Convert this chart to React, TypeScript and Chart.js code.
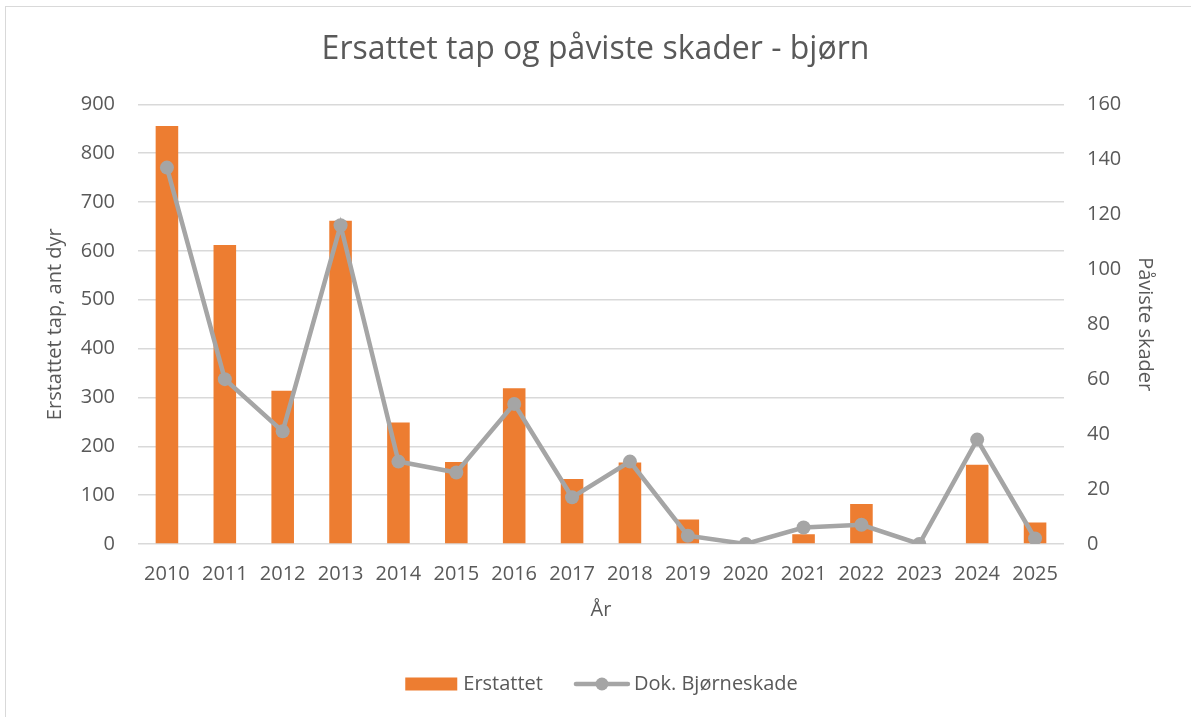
import React, { useEffect, useRef } from "react";
import { Chart, registerables } from "chart.js";

Chart.register(...registerables);

const years = ["2010","2011","2012","2013","2014","2015","2016","2017","2018","2019","2020","2021","2022","2023","2024","2025"];
const erstattet = [856, 612, 314, 662, 249, 168, 319, 133, 167, 50, 0, 20, 82, 0, 162, 44];
const dokSkade = [137, 60, 41, 116, 30, 26, 51, 17, 30, 3, 0, 6, 7, 0, 38, 2];
const leftTicks = [0, 100, 200, 300, 400, 500, 600, 700, 800, 900];
const rightTicks = [0, 20, 40, 60, 80, 100, 120, 140, 160];

const FONT = "'Open Sans', 'Noto Sans', sans-serif";
const TEXT = "#595959";
const ORANGE = "#ed7d31";
const GRAY = "#a5a5a5";

const legendPlugin = {
  id: "excelLegend",
  afterDraw(chart: any) {
    const ctx = chart.ctx;
    const ds = chart.data.datasets;
    ctx.save();
    ctx.font = `20px ${FONT}`;
    ctx.textBaseline = "middle";
    ctx.fillStyle = TEXT;
    const y = 684;
    const w1 = ctx.measureText(ds[0].label).width;
    const w2 = ctx.measureText(ds[1].label).width;
    const total = 52 + 6 + w1 + 31 + 56 + 4 + w2;
    let x = chart.width / 2 + 6 - total / 2;
    ctx.fillStyle = ds[0].backgroundColor;
    ctx.fillRect(x, y - 6.5, 52, 13);
    x += 58;
    ctx.fillStyle = TEXT;
    ctx.textAlign = "left";
    ctx.fillText(ds[0].label, x, y);
    x += w1 + 31;
    ctx.strokeStyle = ds[1].borderColor;
    ctx.lineWidth = 4.5;
    ctx.lineCap = "round";
    ctx.beginPath();
    ctx.moveTo(x + 2, y);
    ctx.lineTo(x + 54, y);
    ctx.stroke();
    ctx.fillStyle = ds[1].borderColor;
    ctx.beginPath();
    ctx.arc(x + 28, y, 6.5, 0, Math.PI * 2);
    ctx.fill();
    x += 60;
    ctx.fillStyle = TEXT;
    ctx.fillText(ds[1].label, x, y);
    ctx.restore();
  },
};

export default function App() {
  const ref = useRef<HTMLCanvasElement | null>(null);
  useEffect(() => {
    if (!ref.current) return;
    const chart = new Chart(ref.current, {
      type: "bar",
      data: {
        labels: years,
        datasets: [
          {
            type: "bar",
            label: "Erstattet",
            data: erstattet,
            backgroundColor: ORANGE,
            yAxisID: "y",
            barPercentage: 0.39,
            categoryPercentage: 1,
            order: 1,
          },
          {
            type: "line",
            label: "Dok. Bjørneskade",
            data: dokSkade,
            borderColor: GRAY,
            backgroundColor: GRAY,
            borderWidth: 4.5,
            pointRadius: 7,
            pointBackgroundColor: GRAY,
            pointBorderColor: GRAY,
            pointBorderWidth: 0,
            tension: 0,
            yAxisID: "y1",
            order: 0,
          } as any,
        ],
      },
      options: {
        responsive: false,
        animation: false,
        layout: { padding: { top: 0, bottom: 93, left: 0, right: 0 } },
        plugins: {
          legend: { display: false },
          tooltip: { enabled: false },
          title: {
            display: true,
            text: "Ersattet tap og påviste skader - bjørn",
            color: TEXT,
            font: { family: FONT, size: 32, weight: "normal" as any },
            padding: { top: 31, bottom: 35 },
          },
        },
        scales: {
          x: {
            offset: true,
            grid: { display: false, drawTicks: false },
            border: { display: false },
            ticks: { color: TEXT, font: { family: FONT, size: 20 }, padding: 18, maxRotation: 0, autoSkip: false },
            title: { display: true, text: "År", color: TEXT, font: { family: FONT, size: 20 }, padding: { top: 0, bottom: 2 } },
            afterFit: (s: any) => { s.height = 80; },
          },
          y: {
            position: "left",
            min: 0,
            max: leftTicks[leftTicks.length - 1],
            afterBuildTicks: (s: any) => { s.ticks = leftTicks.map((v) => ({ value: v })); },
            grid: { color: "#d9d9d9", lineWidth: 1.5, drawTicks: false },
            border: { display: false },
            ticks: { color: TEXT, font: { family: FONT, size: 20 }, padding: 23 },
            title: { display: true, text: "Erstattet tap, ant dyr", color: TEXT, font: { family: FONT, size: 20 }, padding: { top: 43, bottom: 0 } },
            afterFit: (s: any) => { s.width = 138; },
          },
          y1: {
            position: "right",
            min: 0,
            max: rightTicks[rightTicks.length - 1],
            afterBuildTicks: (s: any) => { s.ticks = rightTicks.map((v) => ({ value: v })); },
            grid: { display: false, drawTicks: false },
            border: { display: false },
            ticks: { color: TEXT, font: { family: FONT, size: 20 }, padding: 23 },
            title: { display: true, text: "Påviste skader", color: TEXT, font: { family: FONT, size: 20 }, padding: { top: 34, bottom: 0 } },
            afterFit: (s: any) => { s.width = 127; },
          },
        },
      } as any,
      plugins: [legendPlugin],
    });
    return () => chart.destroy();
  }, []);

  return (
    <div style={{ position: "absolute", left: 0, top: 0, width: 1191, height: 717, overflow: "hidden", background: "#fff" }}>
      <div style={{ position: "absolute", left: 5, top: 6, width: 1200, height: 720, borderLeft: "1.5px solid #d9d9d9", borderTop: "1.5px solid #d9d9d9" }} />
      <canvas ref={ref} width={1191} height={717} style={{ position: "absolute", left: 0, top: 0 }} />
    </div>
  );
}
